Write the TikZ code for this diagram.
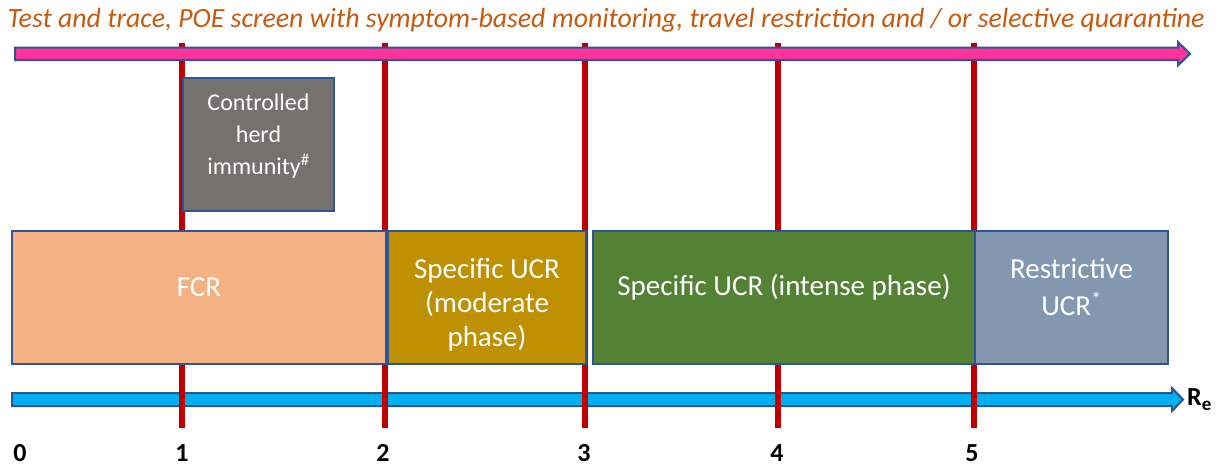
\documentclass[tikz,border=0pt]{standalone}
\usepackage{fontspec}
\setmainfont{Carlito}
\definecolor{myred}{HTML}{C00000}
\definecolor{edgeblue}{HTML}{2F5597}
\definecolor{pinkfill}{HTML}{FF3399}
\definecolor{cyanfill}{HTML}{00B0F0}
\definecolor{titlecol}{HTML}{C55A11}
\definecolor{fcrfill}{HTML}{F4B183}
\definecolor{modfill}{HTML}{BF9000}
\definecolor{intfill}{HTML}{548235}
\definecolor{resfill}{HTML}{8497B0}
\definecolor{grayfill}{HTML}{767171}
\begin{document}
\begin{tikzpicture}[x=1pt,y=-1pt,
  redline/.style={draw=myred, line width=6.5pt},
  phasebox/.style={draw=edgeblue, line width=2pt, inner sep=0pt, minimum height=133pt},
  boxtext/.style={text=white, align=center, inner sep=0pt, font=\fontsize{29}{34}\selectfont},
  ticklabel/.style={font=\fontsize{26}{26}\selectfont\bfseries, inner sep=0pt},
  arrowshape/.style={draw=edgeblue, line width=2pt, line join=miter}
]
\useasboundingbox (0,0) rectangle (1220,467);

% blue R_e axis arrow
\draw[arrowshape, fill=cyanfill] (12,393) -- (1172,393) -- (1172,388) -- (1183,399.5) -- (1172,411) -- (1172,406) -- (12,406) -- cycle;

% red threshold lines
\foreach \xx in {182,385,585,778,974}
  \draw[redline] (\xx,43) -- (\xx,428);

% top pink arrow
\draw[arrowshape, fill=pinkfill] (15,47.5) -- (1178,47.5) -- (1178,42) -- (1190,53.75) -- (1178,65.5) -- (1178,60) -- (15,60) -- cycle;

% title
\node[text=titlecol, font=\fontsize{27.8}{28}\selectfont\itshape, inner sep=0pt] (title) at (606,20)
  {Test and trace, POE screen with symptom-based monitoring, travel restriction and / or selective quarantine};

% gray box
\node[phasebox, fill=grayfill, minimum width=151pt] (herd) at (258.5,144.5) {};
\node[boxtext, font=\fontsize{24}{32}\selectfont] (herdtext) at (258.5,136) {Controlled\\herd\\immunity\textsuperscript{\#}};

% phase boxes
\node[phasebox, fill=fcrfill, minimum width=374pt] (fcr) at (199,297.5) {};
\node[phasebox, fill=modfill, minimum width=198pt] (mod) at (487,297.5) {};
\node[phasebox, fill=intfill, minimum width=382pt] (int) at (784,297.5) {};
\node[phasebox, fill=resfill, minimum width=193pt] (res) at (1071.5,297.5) {};

\node[boxtext] (fcrtext) at (199,287) {FCR};
\node[boxtext] (modtext) at (487,305) {Specific UCR\\(moderate\\phase)};
\node[boxtext] (inttext) at (784,287) {Specific UCR (intense phase)};
\node[boxtext, font=\fontsize{29}{37}\selectfont] (restext) at (1071.5,287) {Restrictive\\UCR\textsuperscript{*}};

% axis label
\node[anchor=west, inner sep=0pt, font=\fontsize{26}{26}\selectfont\bfseries] (re) at (1187,400)
  {R\raisebox{-5pt}{\fontsize{19}{19}\selectfont e}};

% tick labels
\node[ticklabel] (n0) at (20,453) {0};
\node[ticklabel] (n1) at (182,453) {1};
\node[ticklabel] (n2) at (383,453) {2};
\node[ticklabel] (n3) at (584,453) {3};
\node[ticklabel] (n4) at (777,453) {4};
\node[ticklabel] (n5) at (972,453) {5};
\end{tikzpicture}
\end{document}
